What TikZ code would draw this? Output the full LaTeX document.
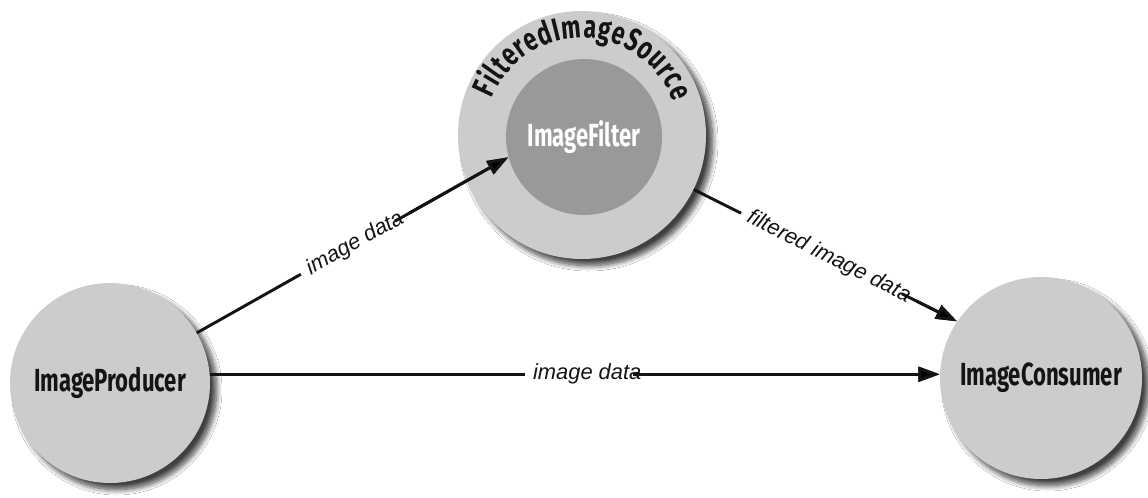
\documentclass[tikz,border=0pt]{standalone}
\usepackage{fontspec}
\usetikzlibrary{arrows.meta,shadows.blur,decorations.text,calc}
\newfontfamily\lblfont{Liberation Sans}
\newfontfamily\circfont[FakeStretch=0.69]{Fira Sans}
\newfontfamily\arcfont[FakeStretch=0.72]{Fira Sans}
\definecolor{circlight}{RGB}{204,204,204}
\definecolor{circdark}{RGB}{153,153,153}
\definecolor{ink}{RGB}{20,20,20}
\begin{document}
\begin{tikzpicture}[x=0.75pt,y=-0.75pt,
  circ/.style={circle, fill=circlight, draw=none, inner sep=0pt,
    font=\circfont\bfseries\fontsize{24}{28}\selectfont, text=ink,
    blur shadow={shadow xshift=5pt, shadow yshift=-5pt, shadow blur radius=4pt,
      shadow blur steps=10, shadow opacity=75}},
  innercirc/.style={circle, fill=circdark, draw=none, inner sep=0pt,
    font=\circfont\bfseries\fontsize{24}{28}\selectfont, text=white},
  conn/.style={line width=2.2pt, draw=ink, -{Triangle[length=16pt,width=11pt]}},
  lbl/.style={font=\lblfont\itshape\fontsize{16.4}{19}\selectfont, fill=white,
    inner xsep=6pt, inner ysep=2pt, sloped, text=ink}]
\useasboundingbox (0,0) rectangle (1148,497);
\fill[white] (0,0) rectangle (1148,497);
% circles
\node[circ, minimum size=150pt] (prod) at (110,383) {ImageProducer};
\node[circ, minimum size=151.5pt] (cons) at (1041,378) {ImageConsumer};
\node[circ, minimum size=186pt] (src) at (582,135) {};
\node[innercirc, minimum size=117pt] (filt) at (584,137) {ImageFilter};
% curved title
\path[decorate, decoration={text along path, text color=ink,
    text={|\arcfont\bfseries\fontsize{24}{28}\selectfont|FilteredImageSource},
    text align={fit to path}}]
  ($(src.center)+(-158:97)$) arc[start angle=-158, end angle=-20, radius=97];
% connectors
\draw[conn] (prod.30) -- node[lbl, pos=0.508] (l1) {image data}
  coordinate[pos=0.636] (r1) (filt.195);
\draw[conn] (r1) -- (filt.195);
\draw[conn] (src.-26) -- node[lbl, pos=0.513] (l2) {filtered image data}
  coordinate[pos=0.79] (r2) (cons.146);
\draw[conn] (r2) -- (cons.146);
\draw[conn] (prod.5) -- node[lbl, pos=0.517] (l3) {image data}
  coordinate[pos=0.58] (r3) (prod.5 -| cons.west);
\draw[conn] (r3) -- (prod.5 -| cons.west);
\end{tikzpicture}
\end{document}
